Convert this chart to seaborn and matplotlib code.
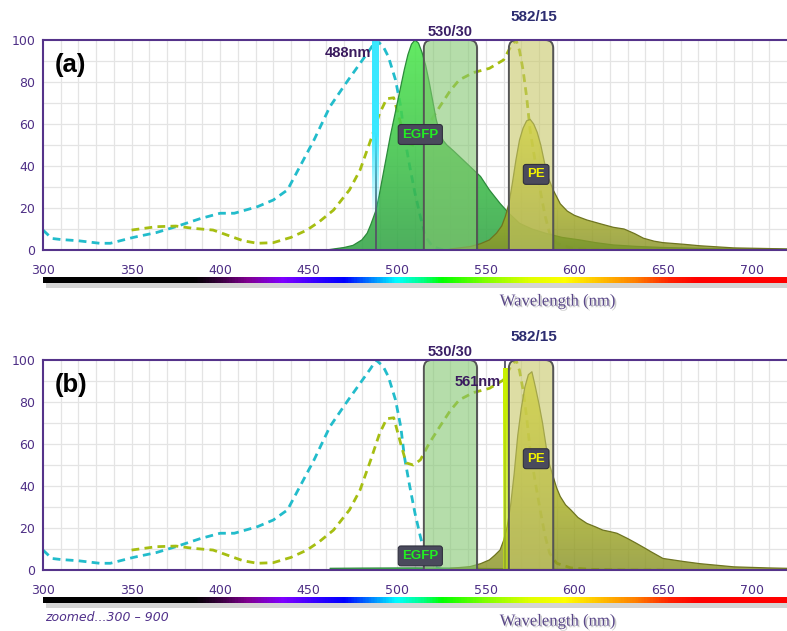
import numpy as np
import matplotlib
matplotlib.use("Agg")
import matplotlib.pyplot as plt
import matplotlib.patheffects as pe
import seaborn as sns
from matplotlib.colors import LinearSegmentedColormap, Normalize, to_rgba
from matplotlib.patches import FancyBboxPatch, PathPatch, Rectangle

# ---------------- data ----------------
ex_egfp_nm = [300, 305, 310, 320, 332, 338, 351, 364, 375, 389, 400, 408, 421, 430, 438,
              445, 453, 462, 471, 479, 485, 488, 492, 495, 499, 502, 504, 507, 510, 513,
              516, 520, 525, 530]
ex_egfp_val = [9.5, 5.5, 5.0, 4.4, 3.2, 3.2, 6.0, 8.3, 11.1, 15.0, 17.5, 17.5, 20.6, 23.8, 28.6,
               39.7, 52.4, 68.3, 79.4, 88.9, 96.0, 100.0, 97.0, 92.0, 81.0, 68.0, 54.0, 40.0, 27.0, 16.0,
               6.3, 1.6, 0.3, 0.0]

ex_pe_nm = [350, 364, 375, 385, 396, 404, 413, 421, 430, 440, 449, 456, 464, 473, 479,
            485, 490, 494, 498, 502, 505, 509, 513, 518, 524, 530, 535, 543, 552, 560,
            564, 567, 569, 571, 573, 575, 578, 581, 583.5, 586, 590, 598, 610, 630, 650]
ex_pe_val = [9.5, 11.1, 11.4, 10.3, 9.5, 7.1, 4.4, 3.2, 3.5, 6.0, 9.5, 13.5, 19.0, 28.6, 38.1,
             52.4, 65.0, 72.0, 72.5, 60.0, 51.0, 50.0, 52.4, 60.3, 68.3, 76.0, 81.0, 84.5, 86.5, 90.5,
             96.8, 100.0, 95.0, 85.7, 73.0, 57.0, 41.3, 27.0, 16.0, 8.0, 3.2, 1.0, 0.3, 0.0, 0.0]

em_egfp_a_nm = [460, 465, 470, 475, 480, 483, 485, 488, 490, 492, 494, 496, 498, 500, 502,
                504, 506, 508, 510, 512, 514, 516, 518, 520, 522, 524, 526, 528, 532, 537,
                542, 547, 552, 558, 563, 569, 576, 584, 593, 603, 612, 622, 635, 650, 680, 720]
em_egfp_a_val = [0.0, 0.6, 1.2, 2.2, 4.8, 8.0, 12.0, 19.0, 27.0, 36.0, 45.0, 54.0, 62.0, 70.0, 78.0,
                 86.0, 93.0, 98.0, 100.0, 98.5, 94.0, 88.0, 80.0, 71.0, 62.0, 56.0, 52.0, 50.0, 47.0, 43.0,
                 39.0, 35.0, 28.6, 22.2, 17.5, 12.7, 10.0, 7.9, 6.0, 4.8, 3.5, 2.4, 1.7, 1.2, 0.6, 0.3]

em_egfp_b_nm = [462, 480, 510, 530, 560, 600, 720]
em_egfp_b_val = [0.8, 0.9, 1.0, 0.9, 0.6, 0.3, 0.1]

em_pe_a_nm = [530, 541, 547, 552, 556, 559, 561, 563, 565, 567, 569, 571, 573, 575, 577,
              579, 581, 583, 585, 588, 592, 596, 600, 607, 615, 622, 628, 634, 639, 645,
              650, 662, 671, 690, 709, 720]
em_pe_a_val = [0.5, 1.6, 3.0, 4.8, 8.0, 11.5, 16.0, 22.0, 32.0, 43.0, 52.4, 58.0, 61.5, 62.2, 60.0,
               56.0, 50.0, 42.0, 35.0, 28.6, 22.0, 18.5, 16.5, 14.3, 12.4, 10.8, 10.0, 7.8, 5.6, 4.2,
               3.5, 2.7, 2.0, 1.0, 0.7, 0.5]

em_pe_b_nm = [530, 541, 547, 552, 555, 558, 560, 562, 564, 566, 568, 570, 572, 574, 576,
              578, 580, 582, 584, 586, 588, 590, 592, 595, 598, 602, 607, 612, 616, 620,
              624, 630, 635, 640, 643, 650, 662, 671, 690, 709, 720]
em_pe_b_val = [0.8, 1.6, 3.0, 4.8, 7.0, 9.5, 14.0, 20.6, 31.0, 46.0, 64.0, 77.0, 87.0, 93.0, 94.4,
               87.0, 79.0, 70.0, 59.0, 50.0, 44.5, 39.0, 35.0, 31.0, 28.6, 25.0, 22.2, 20.5, 19.0, 18.3,
               17.5, 15.0, 12.7, 10.3, 8.8, 5.5, 4.0, 3.0, 1.5, 1.0, 0.8]

filter_names = ["530/30", "582/15"]
filter_lo = [515, 563]
filter_hi = [545, 588]
laser_nm = [488, 561]
laser_labels = ["488nm", "561nm"]
panel_labels = ["(a)", "(b)"]
x_ticks = [300, 350, 400, 450, 500, 550, 600, 650, 700]
y_ticks = [0, 20, 40, 60, 80, 100]

# ---------------- style ----------------
sns.set_style("white")
plt.rcParams["font.family"] = ["DejaVu Sans"]

W, H = 787, 631
PURPLE = "#4e2f86"
fig = plt.figure(figsize=(W / 100, H / 100), dpi=100)

spec_nodes = [(300, "#000000"), (385, "#000000"), (400, "#3a0040"), (415, "#800090"),
              (435, "#8000ff"), (455, "#3000ff"), (470, "#0000ff"), (485, "#0080ff"),
              (500, "#00ffff"), (515, "#00ff80"), (525, "#00ff00"), (550, "#80ff00"),
              (575, "#e0ff00"), (595, "#ffff00"), (615, "#ffc000"), (635, "#ff8000"),
              (655, "#ff2000"), (670, "#ff0000"), (720, "#ff0000")]
spec_cmap = LinearSegmentedColormap.from_list(
    "spec", [((n - 300) / 420, c) for n, c in spec_nodes])


def gradient_fill(ax, x, y, c_low, c_high, alpha, z, edge):
    x = np.asarray(x, float)
    y = np.asarray(y, float)
    poly = ax.fill_between(x, y, 0, facecolor="none", edgecolor="none")
    path = poly.get_paths()[0]
    clip = PathPatch(path, transform=ax.transData, facecolor="none", edgecolor="none")
    cmap = LinearSegmentedColormap.from_list("g", [c_low, c_high])
    grad = np.linspace(0, 1, 256).reshape(-1, 1)
    im = ax.imshow(grad, extent=[x.min(), x.max(), 0, y.max()], origin="lower",
                   aspect="auto", cmap=cmap, alpha=alpha, zorder=z, interpolation="bilinear")
    im.set_clip_path(clip)
    ax.plot(x, y, color=edge, lw=0.9, zorder=z + 0.05)


def laser_bar(ax, x0, x1, ytop, color, a_top, a_bot, fade_to):
    n = 200
    ys = np.linspace(0, ytop, n)
    rgba = np.zeros((n, 1, 4))
    rgba[:, 0, :3] = to_rgba(color)[:3]
    alpha = np.clip(a_bot + (a_top - a_bot) * (ys - fade_to[0]) / (fade_to[1] - fade_to[0]), a_bot, a_top)
    rgba[:, 0, 3] = alpha
    ax.imshow(rgba, extent=[x0, x1, 0, ytop], origin="lower", aspect="auto", zorder=4.6,
              interpolation="bilinear")


def panel(ax, idx, em_egfp_nm, em_egfp_val, em_pe_nm, em_pe_val, egfp_lab_y, pe_lab_y):
    # grid
    ax.vlines(np.arange(310, 720, 10), 0, 100, colors="#e4e4e4", lw=0.9, zorder=0)
    ax.hlines(np.arange(10, 100, 10), 300, 720, colors="#e4e4e4", lw=0.9, zorder=0)

    # excitation spectra (dashed)
    sns.lineplot(x=ex_egfp_nm, y=ex_egfp_val, ax=ax, color="#22bccb", lw=2.0,
                 linestyle=(0, (2.8, 1.9)), zorder=2)
    sns.lineplot(x=ex_pe_nm, y=ex_pe_val, ax=ax, color="#a6be12", lw=2.0,
                 linestyle=(0, (2.8, 1.9)), zorder=2)

    # emission spectra (filled)
    gradient_fill(ax, em_egfp_nm, em_egfp_val, "#35a548", "#4ee84e", 0.88, 3, "#2b8a3a")
    gradient_fill(ax, em_pe_nm, em_pe_val, "#8a9428", "#e2e21a", 0.82, 3.5, "#6e7420")

    # laser line
    L = laser_nm[idx]
    ax.vlines(L, 0, 100, color="#555566", lw=1.3, zorder=4.5)
    if idx == 0:
        laser_bar(ax, L - 2.0, L + 1.8, 100, "#3ae8ff", 1.0, 0.0, (15, 55))
        ax.text(L - 2.5, 94, laser_labels[idx], ha="right", va="center", fontsize=10.5,
                fontweight="bold", color="#3a1a5e", family="Liberation Sans", zorder=8)
    else:
        laser_bar(ax, L - 1.2, L + 1.9, 96, "#c8f000", 1.0, 0.55, (10, 80))
        ax.text(L - 2.6, 89.5, laser_labels[idx], ha="right", va="center", fontsize=10.5,
                fontweight="bold", color="#3a1a5e", family="Liberation Sans", zorder=8)

    # filter boxes
    fcols = ["#8ed87a", "#d8d870"]
    for name, lo, hi, fc in zip(filter_names, filter_lo, filter_hi, fcols):
        sh = FancyBboxPatch((lo + 0.8, -8), hi - lo, 107.5,
                            boxstyle="round,pad=0,rounding_size=4.5", mutation_aspect=0.85,
                            fc="black", ec="none", alpha=0.10, zorder=4.8)
        ax.add_patch(sh)
        bx = FancyBboxPatch((lo, -8), hi - lo, 108,
                            boxstyle="round,pad=0,rounding_size=4.5", mutation_aspect=0.85,
                            fc=to_rgba(fc, 0.55), ec="#555555", lw=1.4, zorder=5)
        ax.add_patch(bx)
    ax.text(530, 104, filter_names[0], ha="center", va="center", fontsize=10.5,
            fontweight="bold", color="#3b1f66", family="Liberation Sans", clip_on=False, zorder=8)
    ax.text(577, 111, filter_names[1], ha="center", va="center", fontsize=11,
            fontweight="bold", color="#2c2c70", family="Liberation Sans", clip_on=False, zorder=8)

    # dye labels
    ax.text(513, egfp_lab_y, "EGFP", ha="center", va="center", fontsize=9.5, fontweight="bold",
            color="#22ee22", family="Liberation Sans", zorder=9,
            bbox=dict(boxstyle="round,pad=0.3,rounding_size=0.2", fc="#4a4a5c", ec="#30303e", lw=0.8))
    ax.text(578.4, pe_lab_y, "PE", ha="center", va="center", fontsize=9.5, fontweight="bold",
            color="#f2f200", family="Liberation Sans", zorder=9,
            bbox=dict(boxstyle="round,pad=0.3,rounding_size=0.2", fc="#4a4a5c", ec="#30303e", lw=0.8))

    # panel label
    ax.text(306.5, 88, panel_labels[idx], ha="left", va="center", fontsize=18.5, fontweight="bold",
            color="black", family="Liberation Sans", zorder=9)

    # axes formatting
    ax.set_xlim(300, 720)
    ax.set_ylim(0, 100)
    ax.set_xticks(x_ticks)
    ax.set_xticks(np.arange(325, 720, 50), minor=True)
    ax.set_yticks(y_ticks)
    ax.tick_params(axis="x", which="both", direction="out", length=3.6, width=1.2,
                   color=PURPLE, labelcolor=PURPLE, labelsize=9, pad=6.5)
    ax.tick_params(axis="y", direction="out", length=3, width=1.2, color=PURPLE,
                   labelcolor=PURPLE, labelsize=9, pad=2.5)
    ax.set_xlabel("")
    ax.set_ylabel("")
    for s in ["left", "top", "bottom"]:
        ax.spines[s].set_color("#55338a")
        ax.spines[s].set_linewidth(1.5)
        ax.spines[s].set_zorder(10)
    ax.spines["right"].set_visible(False)


for idx, off in enumerate([0, 320]):
    ax = fig.add_axes([43 / W, 1 - (250 + off) / H, 744 / W, 210 / H])
    if idx == 0:
        panel(ax, 0, em_egfp_a_nm, em_egfp_a_val, em_pe_a_nm, em_pe_a_val, 55, 36)
    else:
        panel(ax, 1, em_egfp_b_nm, em_egfp_b_val, em_pe_b_nm, em_pe_b_val, 6.7, 53)

    # spectrum bar + shadow
    fig.patches.append(Rectangle(((46) / W, 1 - (288 + off) / H), 741 / W, 6 / H,
                                 transform=fig.transFigure, color="#888888", alpha=0.35,
                                 zorder=-1, lw=0))
    cax = fig.add_axes([43 / W, 1 - (283 + off) / H, 744 / W, 6.5 / H])
    cax.imshow(np.linspace(300, 720, 900)[None, :], cmap=spec_cmap, norm=Normalize(300, 720),
               aspect="auto", extent=[300, 720, 0, 1], interpolation="bilinear")
    cax.axis("off")

    # axis title with soft shadow
    yl = 1 - (301.5 + off) / H
    fig.text(557.5 / W, yl, "Wavelength (nm)", ha="center", va="center", fontsize=12,
             family="Liberation Serif", color="#5a4888",
             path_effects=[pe.withSimplePatchShadow(offset=(1.2, -1.2), shadow_rgbFace="#999999",
                                                    alpha=0.5)])

fig.text(45 / W, 1 - 617.7 / H, "zoomed...300 \u2013 900", ha="left", va="center", fontsize=9,
         style="italic", color="#50308a")

fig.savefig("out.png", dpi=100)
